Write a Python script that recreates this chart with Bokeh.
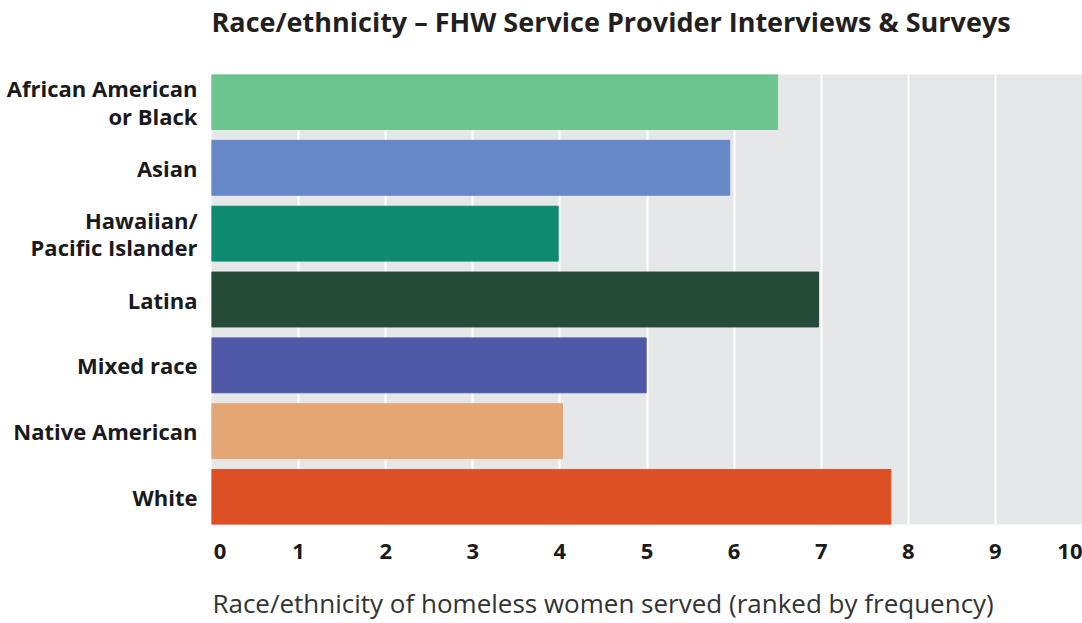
from bokeh.plotting import figure
from bokeh.models import Range1d, FixedTicker, ColumnDataSource
from bokeh.embed import file_html
from bokeh.resources import INLINE

categories = ["African American or Black", "Asian", "Hawaiian/Pacific Islander",
              "Latina", "Mixed race", "Native American", "White"]
tick_labels = ["African American\nor Black", "Asian", "Hawaiian/\nPacific Islander",
               "Latina", "Mixed race", "Native American", "White"]
values = [6.5, 5.95, 3.98, 6.97, 4.99, 4.03, 7.8]
colors = ["#6cc48f", "#6688c8", "#0e8a70", "#244a38", "#5059a8", "#e4a675", "#dd5026"]
x_ticks = [0, 1, 2, 3, 4, 5, 6, 7, 8, 9, 10]
x_tick_labels = ["0", "1", "2", "3", "4", "5", "6", "7", "8", "9", "10"]
title_text = "Race/ethnicity \u2013 FHW Service Provider Interviews & Surveys"
x_title = "Race/ethnicity of homeless women served (ranked by frequency)"

NB = "\u00a0"
n = len(categories)
ypos = [n - 1 - i for i in range(n)]
src = ColumnDataSource(dict(y=ypos, right=values, color=colors, cat=categories))

bar_h = 55 / 66
pad = (1 - bar_h) / 2
p = figure(width=1082, height=623, output_backend="svg", toolbar_location=None,
           x_range=Range1d(0, 10), y_range=Range1d(-0.5 + pad, n - 0.5 - pad))
p.hbar(y="y", left=0, right="right", height=bar_h, color="color", source=src)

p.background_fill_color = "#e6e7e9"
p.border_fill_color = "white"
p.outline_line_color = None
p.min_border_left = 211
p.min_border_right = 0
p.min_border_top = 73
p.min_border_bottom = 99

p.xgrid.ticker = FixedTicker(ticks=x_ticks[1:-1])
p.xgrid.grid_line_color = "white"
p.xgrid.grid_line_width = 2
p.ygrid.grid_line_color = None

FONT = "Open Sans"
# x axis
p.xaxis.ticker = FixedTicker(ticks=x_ticks)
ovr = {}
for t, lbl in zip(x_ticks, x_tick_labels):
    if t == x_ticks[0]:
        ovr[t] = NB * 3 + lbl
    else:
        ovr[t] = lbl
p.xaxis.major_label_overrides = ovr
p.xaxis.axis_line_color = None
p.xaxis.major_tick_line_color = None
p.xaxis.minor_tick_line_color = None
p.xaxis.major_tick_out = 0
p.xaxis.major_label_standoff = 10
p.xaxis.major_label_text_font = FONT
p.xaxis.major_label_text_font_style = "bold"
p.xaxis.major_label_text_font_size = "22px"
p.xaxis.major_label_text_color = "#1a1a1a"

# x axis title (trailing no-break spaces shift it to start near the frame's left edge)
xax = p.xaxis[0]
xax.axis_label = x_title + NB * 13
xax.axis_label_standoff = 17
xax.axis_label_text_font = FONT
xax.axis_label_text_font_style = "normal"
xax.axis_label_text_font_size = "26px"
xax.axis_label_text_color = "#333333"

# y axis
p.yaxis.ticker = FixedTicker(ticks=ypos)
p.yaxis.major_label_overrides = {y: lbl for y, lbl in zip(ypos, tick_labels)}
p.yaxis.axis_line_color = None
p.yaxis.major_tick_line_color = None
p.yaxis.minor_tick_line_color = None
p.yaxis.major_tick_out = 0
p.yaxis.major_label_standoff = 14
p.yaxis.major_label_text_font = FONT
p.yaxis.major_label_text_font_style = "bold"
p.yaxis.major_label_text_font_size = "22px"
p.yaxis.major_label_text_color = "#1a1a1a"
p.yaxis.major_label_text_line_height = 0.92

# title: a blank second line lifts it away from the frame
p.title.text = title_text + "\n" + NB
p.title.align = "left"
p.title.text_font = FONT
p.title.text_font_style = "bold"
p.title.text_font_size = "27px"
p.title.text_color = "#231f20"
p.title.text_line_height = 0.94
p.title.standoff = 0

open("out.html", "w").write(file_html(p, INLINE))
